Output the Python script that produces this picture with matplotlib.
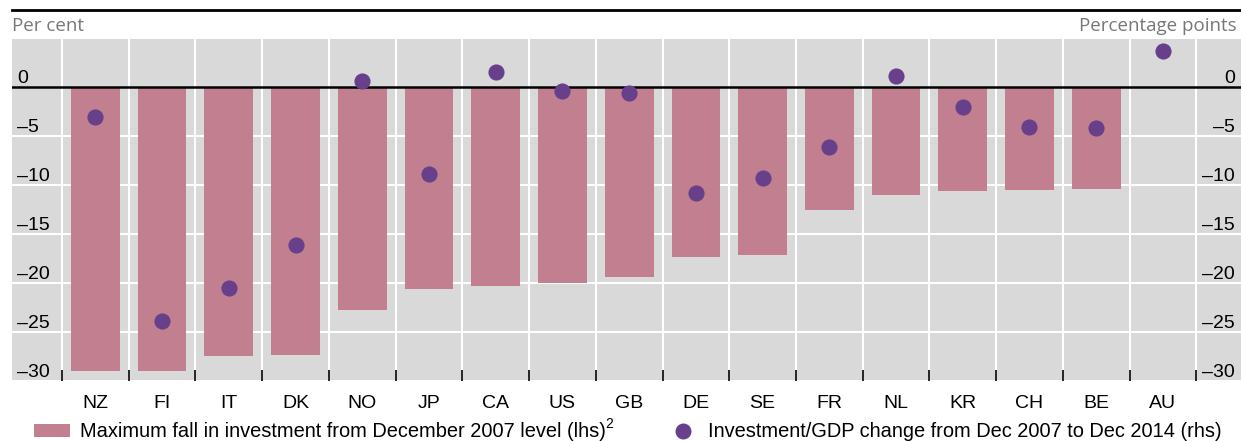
import matplotlib

matplotlib.use("Agg")
import matplotlib.pyplot as plt
import matplotlib.transforms as mtransforms
from matplotlib.lines import Line2D
from matplotlib.patches import Rectangle

plt.rcParams["font.family"] = ["Liberation Sans", "DejaVu Sans"]

countries = ["NZ", "FI", "IT", "DK", "NO", "JP", "CA", "US", "GB", "DE",
             "SE", "FR", "NL", "KR", "CH", "BE", "AU"]
# Maximum fall in investment from December 2007 level (lhs), per cent
max_fall = [-29.0, -29.0, -27.4, -27.3, -22.8, -20.6, -20.3, -20.0, -19.4,
            -17.3, -17.1, -12.6, -11.0, -10.6, -10.5, -10.4, 0.0]
# Investment/GDP change Dec 2007 to Dec 2014 (rhs), percentage points
inv_gdp = [-3.1, -23.9, -20.5, -16.1, 0.6, -8.9, 1.5, -0.4, -0.6,
           -10.8, -9.3, -6.1, 1.1, -2.0, -4.1, -4.2, 3.7]
yticks = [0, -5, -10, -15, -20, -25, -30]

BAR = "#C27F8F"
DOT = "#673F8B"
BG = "#D9D9D9"
W, H = 1241, 441

fig = plt.figure(figsize=(W / 100, H / 100), dpi=100)
ax = fig.add_axes([12 / W, (H - 381) / H, 1 - 12 / W, (381 - 39) / H])
ax.set_facecolor(BG)
for s in ax.spines.values():
    s.set_visible(False)

x = list(range(len(countries)))
ax.set_xlim(-1.25, 17.17)
ax.set_ylim(-30, 4.9)

# white grid behind the bars
for yv in yticks[1:]:
    ax.axhline(yv, color="white", lw=1.5, zorder=1)
for b in range(len(countries) + 1):
    ax.axvline(b - 0.5, color="white", lw=1.5, zorder=1)

ax.bar(x, max_fall, width=0.73, color=BAR, zorder=2)
ax.scatter(x, inv_gdp, s=135, color=DOT, zorder=4, linewidths=0)
ax.axhline(0, color="black", lw=1.8, zorder=3)

ax.set_xticks(x)
ax.set_xticklabels(countries, fontsize=14)
ax.set_xticks([b - 0.5 for b in range(len(countries) + 1)], minor=True)
ax.tick_params(axis="x", which="major", length=0, pad=10)
ax.tick_params(axis="x", which="minor", direction="in", length=8,
               width=1.2, color="black")
ax.set_yticks([])

# y labels sit inside the plot, just above their gridline
left_tr = mtransforms.offset_copy(ax.get_yaxis_transform(), fig=fig,
                                  x=5, y=4, units="dots")
right_tr = mtransforms.offset_copy(ax.get_yaxis_transform(), fig=fig,
                                   x=-6, y=4, units="dots")
for yv in yticks:
    lab = str(yv).replace("-", "\u2013")
    ax.text(0, yv, lab, transform=left_tr, ha="left", va="baseline",
            fontsize=14)
    ax.text(1, yv, lab, transform=right_tr, ha="right", va="baseline",
            fontsize=14)

# top rule and unit labels
fig.add_artist(Line2D([12 / W, 1], [1 - 10 / H, 1 - 10 / H], color="black",
                      lw=2, transform=fig.transFigure))
fig.text(12 / W, 1 - 26 / H, "Per cent", fontsize=13.5, color="#777777",
         family=["Open Sans", "DejaVu Sans"], va="center", ha="left")
fig.text(1 - 4 / W, 1 - 26 / H, "Percentage points", fontsize=13.5,
         color="#777777", family=["Open Sans", "DejaVu Sans"],
         va="center", ha="right")

# legend, drawn by hand
base = (H - 437) / H
fig.add_artist(Rectangle((34 / W, (H - 437) / H), 36 / W, 13 / H,
                         facecolor=BAR, edgecolor="none",
                         transform=fig.transFigure))
t1 = fig.text(80 / W, base,
              "Maximum fall in investment from December 2007 level (lhs)",
              fontsize=14.4, va="baseline", ha="left")
fig.canvas.draw()
bb = t1.get_window_extent()
fig.text((bb.x1 - 1) / W, base + 9 / H, "2", fontsize=10, va="baseline",
         ha="left")
fig.add_artist(Line2D([683 / W], [(H - 431) / H], marker="o", markersize=11.5,
                      color=DOT, markeredgewidth=0, transform=fig.transFigure))
fig.text(708 / W, base,
         "Investment/GDP change from Dec 2007 to Dec 2014 (rhs)",
         fontsize=14.4, va="baseline", ha="left")

fig.savefig("out.png", dpi=100)
